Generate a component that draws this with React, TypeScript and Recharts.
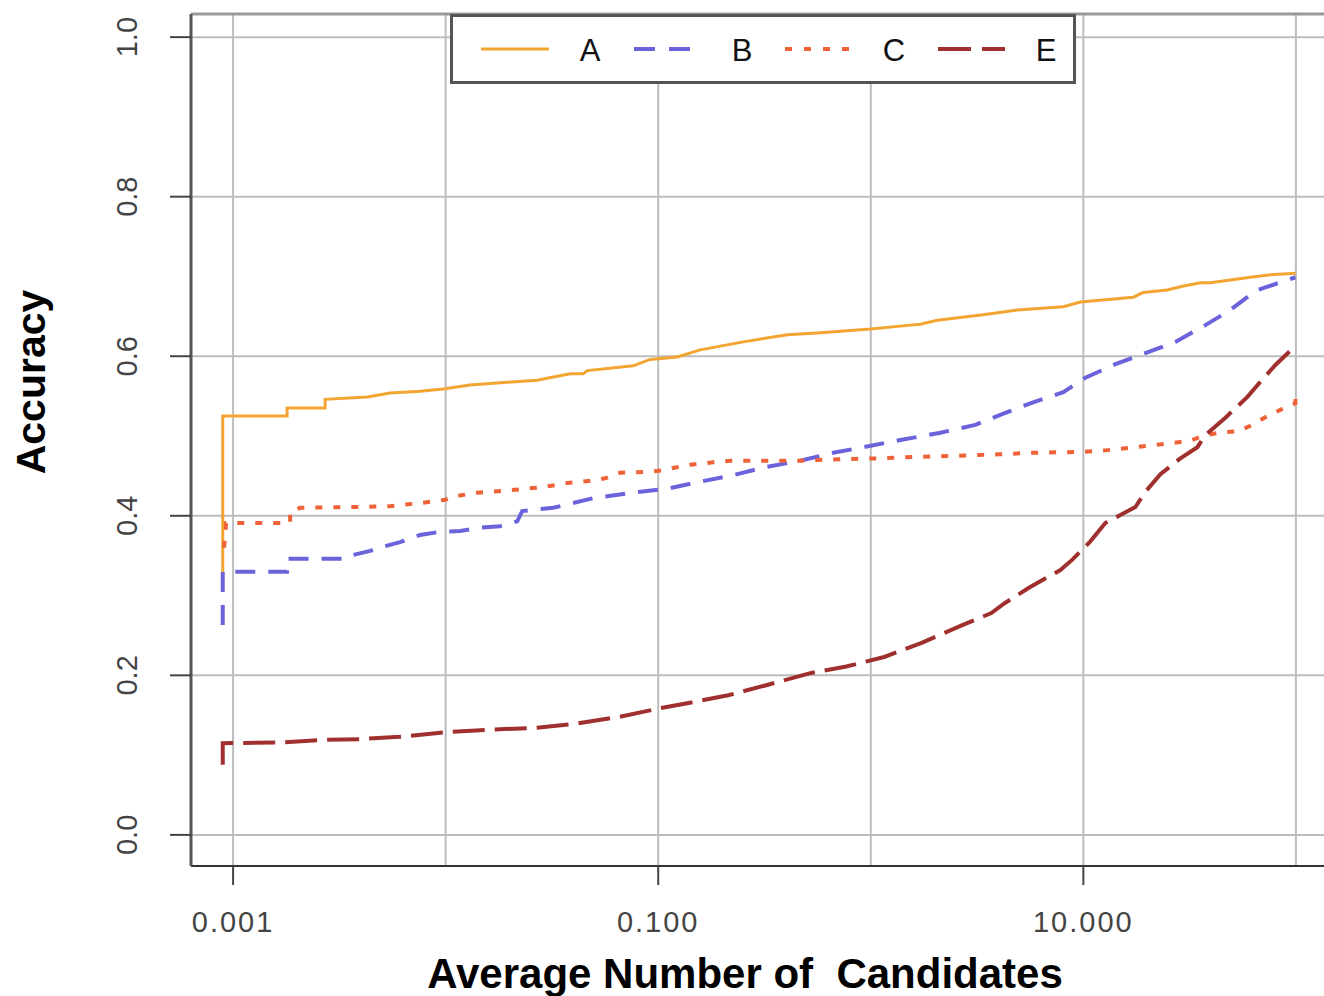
import React from 'react';
import { LineChart, Line, XAxis, YAxis, CartesianGrid, ReferenceLine, Legend, Label } from 'recharts';

// ---- data (x = average number of candidates, y = accuracy) ----
const aX = [0.000894, 0.000894, 0.001795, 0.001795, 0.00271, 0.00271, 0.00428, 0.00548, 0.00759, 0.00973, 0.01303, 0.02698, 0.0321, 0.0386, 0.0444, 0.0463, 0.0763, 0.0916, 0.1228, 0.1577, 0.2512, 0.4046, 0.56, 1.0, 1.536, 1.711, 2.056, 3.383, 4.887, 8.05, 9.68, 17.2, 19.1, 24.8, 29.6, 35.6, 39.6, 61.1, 75.9, 99.5];
const aY = [0.328, 0.525, 0.525, 0.535, 0.535, 0.546, 0.549, 0.554, 0.556, 0.559, 0.564, 0.570, 0.574, 0.578, 0.578, 0.582, 0.588, 0.596, 0.599, 0.608, 0.618, 0.627, 0.629, 0.634, 0.639, 0.640, 0.645, 0.652, 0.658, 0.662, 0.668, 0.674, 0.680, 0.683, 0.688, 0.692, 0.692, 0.699, 0.702, 0.704];

const bX = [0.000894, 0.000894, 0.001795, 0.001795, 0.003366, 0.003554, 0.004413, 0.005191, 0.006107, 0.00759, 0.009421, 0.0117, 0.01454, 0.01805, 0.02171, 0.02291, 0.03205, 0.04942, 0.07627, 0.1103, 0.1526, 0.2254, 0.3188, 0.4658, 0.6661, 0.922, 1.377, 2.124, 3.103, 4.295, 5.632, 8.051, 10.22, 14.15, 19.58, 27.1, 37.51, 49.19, 64.48, 99.5];
const bY = [0.263, 0.330, 0.330, 0.346, 0.346, 0.350, 0.356, 0.362, 0.367, 0.376, 0.380, 0.381, 0.385, 0.387, 0.393, 0.406, 0.410, 0.422, 0.429, 0.434, 0.442, 0.451, 0.461, 0.469, 0.479, 0.486, 0.495, 0.504, 0.514, 0.529, 0.541, 0.555, 0.573, 0.590, 0.604, 0.618, 0.639, 0.658, 0.682, 0.699];

const cX = [0.000907, 0.000927, 0.001855, 0.001855, 0.002067, 0.00367, 0.00548, 0.00759, 0.009945, 0.01085, 0.01407, 0.02011, 0.02876, 0.0373, 0.04786, 0.05631, 0.06626, 0.08875, 0.1056, 0.1177, 0.1415, 0.1815, 0.2182, 0.4658, 0.7187, 1.108, 1.71, 2.366, 4.068, 5.632, 9.681, 12.69, 17.57, 25.67, 31.88, 36.31, 43.18, 53.63, 62.42, 73.43, 86.41, 99.5, 99.5];
const cY = [0.360, 0.391, 0.391, 0.405, 0.410, 0.411, 0.412, 0.416, 0.420, 0.424, 0.429, 0.432, 0.436, 0.441, 0.444, 0.447, 0.454, 0.455, 0.457, 0.460, 0.464, 0.467, 0.469, 0.469, 0.471, 0.472, 0.474, 0.475, 0.477, 0.479, 0.480, 0.482, 0.486, 0.491, 0.494, 0.500, 0.504, 0.506, 0.514, 0.525, 0.534, 0.541, 0.560];

const eX = [0.000894, 0.000894, 0.001738, 0.002567, 0.003959, 0.006107, 0.01016, 0.0162, 0.02609, 0.04024, 0.06554, 0.1033, 0.1369, 0.2135, 0.3155, 0.5248, 0.767, 1.157, 1.747, 2.696, 3.691, 4.295, 5.57, 7.795, 8.877, 10.79, 12.69, 14.93, 17.57, 19.58, 23.04, 28.61, 34.4, 37.51, 46.58, 59.14, 68.08, 80.09, 99.5];
const eY = [0.088, 0.115, 0.116, 0.119, 0.120, 0.123, 0.129, 0.132, 0.134, 0.139, 0.148, 0.159, 0.165, 0.175, 0.187, 0.203, 0.211, 0.223, 0.241, 0.263, 0.278, 0.291, 0.310, 0.332, 0.345, 0.368, 0.391, 0.401, 0.411, 0.430, 0.452, 0.472, 0.486, 0.501, 0.523, 0.549, 0.568, 0.589, 0.613];

const xTicks = [0.001, 0.1, 10];
const xGrid = [0.001, 0.01, 0.1, 1, 10, 100];
const yTicks = [0, 0.2, 0.4, 0.6, 0.8, 1.0];
const X_LO = -3.198;
const X_HI = 2.198;
const Y_DOMAIN: [number, number] = [-0.039, 1.029];

const toPoints = (xs: number[], ys: number[]) => xs.map((x, i) => ({ x, y: ys[i] }));

const series = [
  { name: 'A', data: toPoints(aX, aY), color: '#F2A531', dash: undefined as string | undefined, width: 3, legendDash: undefined as string | undefined },
  { name: 'B', data: toPoints(bX, bY), color: '#6B63DB', dash: '20 13', width: 4, legendDash: '21 14' },
  { name: 'C', data: toPoints(cX, cY), color: '#EF6237', dash: '7 11', width: 4, legendDash: '7 12' },
  { name: 'E', data: toPoints(eX, eY), color: '#A0302E', dash: '32 10', width: 4, legendDash: '33 11' },
];

const FONT = 'Liberation Sans, Arial, Helvetica, sans-serif';

const XTick = (props: any) => {
  const { x, y, payload } = props;
  return (
    <text x={x} y={y + 47} textAnchor="middle" fontSize={29} letterSpacing={2} fill="#444" fontFamily={FONT}>
      {Number(payload.value).toFixed(3)}
    </text>
  );
};

const YTick = (props: any) => {
  const { x, y, payload } = props;
  const bx = x - 33;
  return (
    <text x={bx} y={y} transform={`rotate(-90 ${bx} ${y})`} textAnchor="middle" fontSize={29} fill="#444" fontFamily={FONT}>
      {Number(payload.value).toFixed(1)}
    </text>
  );
};

const LegendBox = () => {
  const itemX = [28, 181, 332, 485];
  const lineW = [68, 56, 65, 67];
  const textX = [137, 289, 441, 593];
  return (
    <div style={{ width: 626, height: 70, boxSizing: 'border-box', border: '3px solid #555', background: '#fff' }}>
      <svg width={620} height={64} style={{ display: 'block' }}>
        {series.map((s, i) => (
          <g key={s.name}>
            <line x1={itemX[i]} x2={itemX[i] + lineW[i]} y1={32} y2={32} stroke={s.color} strokeWidth={s.width} strokeDasharray={s.legendDash} />
            <text x={textX[i]} y={44} textAnchor="middle" fontSize={31} fill="#111" fontFamily={FONT}>{s.name}</text>
          </g>
        ))}
      </svg>
    </div>
  );
};

const verticalGen = (args: any) => {
  const { xAxis, offset } = args || {};
  const sc = xAxis && xAxis.scale;
  if (typeof sc === 'function') {
    return xGrid.map((v) => sc(v));
  }
  const left = offset?.left ?? 191;
  const w = offset?.width ?? 1147;
  return xGrid.map((v) => left + (w * (Math.log10(v) - X_LO)) / (X_HI - X_LO));
};

export default function App() {
  return (
    <div style={{ position: 'absolute', left: 0, top: 0, width: 1324, height: 996, overflow: 'hidden', background: '#fff' }}>
      <LineChart width={1360} height={996} margin={{ top: 14, right: 22, bottom: 0, left: 0 }}>
        <CartesianGrid stroke="#bdbdbd" strokeWidth={2} verticalCoordinatesGenerator={verticalGen} />
        <XAxis
          type="number"
          dataKey="x"
          scale="log"
          domain={[Math.pow(10, X_LO), Math.pow(10, X_HI)]}
          allowDataOverflow
          ticks={xTicks}
          interval={0}
          height={130}
          tickSize={19}
          tickMargin={0}
          tick={<XTick />}
          tickLine={{ stroke: '#444', strokeWidth: 2 }}
          axisLine={{ stroke: '#333', strokeWidth: 2 }}
        >
          <Label
            content={() => (
              <text x={745} y={988} textAnchor="middle" fontSize={42} fontWeight="bold" fill="#000" fontFamily={FONT} style={{ whiteSpace: 'pre' }}>
                {'Average Number of  Candidates'}
              </text>
            )}
          />
        </XAxis>
        <YAxis
          type="number"
          domain={Y_DOMAIN}
          allowDataOverflow
          ticks={yTicks}
          interval={0}
          width={191}
          tickSize={21}
          tickMargin={0}
          tick={<YTick />}
          tickLine={{ stroke: '#444', strokeWidth: 2 }}
          axisLine={{ stroke: '#555', strokeWidth: 3 }}
        >
          <Label
            content={() => (
              <text x={45} y={382} transform="rotate(-90 45 382)" textAnchor="middle" fontSize={41} fontWeight="bold" fill="#000" fontFamily={FONT}>
                Accuracy
              </text>
            )}
          />
        </YAxis>
        <ReferenceLine y={Y_DOMAIN[1]} stroke="#999" strokeWidth={3} />
        {series.map((s) => (
          <Line
            key={s.name}
            data={s.data}
            dataKey="y"
            name={s.name}
            type="linear"
            stroke={s.color}
            strokeWidth={s.width}
            strokeDasharray={s.dash}
            dot={false}
            activeDot={false}
            isAnimationActive={false}
          />
        ))}
        <Legend
          layout="vertical"
          verticalAlign="middle"
          align="center"
          wrapperStyle={{ position: 'absolute', top: 14, left: 450, width: 626, height: 70 }}
          content={() => <LegendBox />}
        />
      </LineChart>
    </div>
  );
}
